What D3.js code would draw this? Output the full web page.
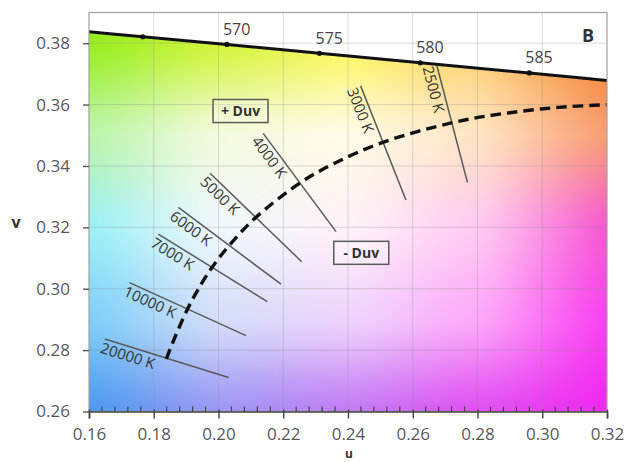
<!DOCTYPE html>
<html><head><meta charset="utf-8">
<script src="https://cdn.jsdelivr.net/npm/d3@7/dist/d3.min.js"></script>
<style>
body{margin:0;background:#fff;}
svg{display:block;font-family:"Open Sans",sans-serif;}
</style>
</head><body>
<svg id="chart" width="625" height="462"></svg>
<script>
// ---------- data ----------
const xTicks = [0.16, 0.18, 0.20, 0.22, 0.24, 0.26, 0.28, 0.30, 0.32];
const yTicks = [0.26, 0.28, 0.30, 0.32, 0.34, 0.36, 0.38];

// spectral locus (CIE 1960 u,v) with wavelength marks
const spectralNm = [560, 565, 570, 575, 580, 585, 590];
const spectralU  = [0.1531, 0.1766, 0.2026, 0.2312, 0.2623, 0.2960, 0.3315];
const spectralV  = [0.3844, 0.3821, 0.3796, 0.3767, 0.3736, 0.3703, 0.3667];
const markedNm   = [565, 570, 575, 580, 585];
const labeledNm  = [570, 575, 580, 585];

// Planckian locus (dashed)
const planckK = [20000, 15000, 10000, 8000, 7000, 6000, 5000, 4000, 3500, 3000, 2500, 2200, 2000, 1800];
const planckU = [0.1839, 0.1858, 0.1904, 0.1946, 0.1981, 0.2033, 0.2114, 0.2251, 0.2357, 0.2505, 0.2722, 0.2876, 0.3051, 0.3231];
const planckV = [0.2771, 0.2823, 0.2933, 0.3014, 0.3071, 0.3141, 0.3231, 0.3344, 0.3408, 0.3476, 0.3541, 0.3570, 0.3591, 0.3601];

// isotemperature lines
const isoLabels = ["20000 K", "10000 K", "7000 K", "6000 K", "5000 K", "4000 K", "3000 K", "2500 K"];
const isoU1 = [0.1649, 0.1725, 0.1814, 0.1876, 0.1974, 0.2138, 0.2439, 0.2674];
const isoV1 = [0.2836, 0.3020, 0.3178, 0.3265, 0.3376, 0.3506, 0.3661, 0.3729];
const isoU2 = [0.2031, 0.2085, 0.2151, 0.2193, 0.2257, 0.2363, 0.2579, 0.2769];
const isoV2 = [0.2711, 0.2847, 0.2958, 0.3015, 0.3088, 0.3186, 0.3289, 0.3346];

// annotations
const boxLabels = ["+ Duv", "- Duv"];
const boxU = [0.2068, 0.2441];
const boxV = [0.3579, 0.3117];

// ---------- style: background colour anchors (u columns x v rows) ----------
const bgU = [0.16, 0.20, 0.24, 0.28, 0.32];
const bgV = [0.26, 0.29, 0.32, 0.35, 0.38];
const bgColors = [
  ["#4c9af0", "#9c96f4", "#c27cf4", "#e050f2", "#f028f0"],   // v=0.26
  ["#80cef8", "#d4def8", "#eed4fc", "#fca8f8", "#f842f0"],   // v=0.29
  ["#9cf0f6", "#f0f8fc", "#fff2f8", "#ffcaf2", "#f65ad2"],   // v=0.32
  ["#bcf4ac", "#f4fae0", "#fffbe8", "#ffe4c4", "#f89e74"],   // v=0.35
  ["#98ee20", "#d2f43a", "#fcf65c", "#fcd070", "#f5852f"]    // v=0.38
];

// ---------- setup ----------
const svg = d3.select("#chart");
const L = 89, R = 607, T = 12.5, B = 411.5;
const x = d3.scaleLinear().domain([0.16, 0.32]).range([L, R]);
const y = d3.scaleLinear().domain([0.26, 0.39]).range([B, T]);

const defs = svg.append("defs");
defs.append("clipPath").attr("id", "plotClip")
  .append("rect").attr("x", L).attr("y", T).attr("width", R - L).attr("height", B - T);

const locus = spectralNm.map((d, i) => ({nm: d, u: spectralU[i], v: spectralV[i]}));
defs.append("clipPath").attr("id", "gamutClip")
  .append("path")
  .attr("d", d3.area().x(d => x(d.u)).y0(B).y1(d => y(d.v)).curve(d3.curveCatmullRom)(locus));

// ---------- colour background ----------
const W = Math.round(R - L), H = Math.round(B - T);
const cv = document.createElement("canvas");
cv.width = W; cv.height = H;
const ctx = cv.getContext("2d");
const img = ctx.createImageData(W, H);
const anchors = bgColors.map(row => row.map(c => { const r = d3.rgb(c); return [r.r, r.g, r.b]; }));
const uIdx = d3.scaleLinear().domain(bgU).range(d3.range(bgU.length)).clamp(true);
const vIdx = d3.scaleLinear().domain(bgV).range(d3.range(bgV.length)).clamp(true);
const sm = t => t * t * (3 - 2 * t) * 0.35 + t * 0.65;
for (let j = 0; j < H; j++) {
  const fv = vIdx(y.invert(T + j + 0.5));
  const j0 = Math.min(Math.floor(fv), bgV.length - 2), tv = sm(fv - j0);
  for (let i = 0; i < W; i++) {
    const fu = uIdx(x.invert(L + i + 0.5));
    const i0 = Math.min(Math.floor(fu), bgU.length - 2), tu = sm(fu - i0);
    const a = anchors[j0][i0], b = anchors[j0][i0 + 1], c = anchors[j0 + 1][i0], d = anchors[j0 + 1][i0 + 1];
    const k = (j * W + i) * 4;
    for (let ch = 0; ch < 3; ch++) {
      const top = a[ch] + (b[ch] - a[ch]) * tu;
      const bot = c[ch] + (d[ch] - c[ch]) * tu;
      img.data[k + ch] = top + (bot - top) * tv;
    }
    img.data[k + 3] = 255;
  }
}
ctx.putImageData(img, 0, 0);

const plotG = svg.append("g").attr("clip-path", "url(#plotClip)");
plotG.append("g").attr("clip-path", "url(#gamutClip)")
  .append("image")
  .attr("x", L).attr("y", T).attr("width", W).attr("height", H)
  .attr("preserveAspectRatio", "none")
  .attr("href", cv.toDataURL());

// grid
plotG.append("g").selectAll("line").data(xTicks.slice(1, -1)).join("line")
  .attr("x1", d => x(d)).attr("x2", d => x(d)).attr("y1", T).attr("y2", B)
  .attr("stroke", "rgba(140,140,140,0.3)").attr("stroke-width", 1);
plotG.append("g").selectAll("line").data(yTicks.slice(1)).join("line")
  .attr("x1", L).attr("x2", R).attr("y1", d => y(d)).attr("y2", d => y(d))
  .attr("stroke", "rgba(140,140,140,0.3)").attr("stroke-width", 1);

// frame
svg.append("rect").attr("x", L).attr("y", T).attr("width", R - L).attr("height", B - T)
  .attr("fill", "none").attr("stroke", "#a0a0a0").attr("stroke-width", 1.2);

// isotemperature lines
const iso = isoLabels.map((t, i) => ({t, u1: isoU1[i], v1: isoV1[i], u2: isoU2[i], v2: isoV2[i]}));
plotG.append("g").selectAll("line").data(iso).join("line")
  .attr("x1", d => x(d.u1)).attr("y1", d => y(d.v1))
  .attr("x2", d => x(d.u2)).attr("y2", d => y(d.v2))
  .attr("stroke", "#5a5a5a").attr("stroke-width", 1.5);
svg.append("g").selectAll("g").data(iso).join("g")
  .attr("transform", d => {
    const a = Math.atan2(y(d.v2) - y(d.v1), x(d.u2) - x(d.u1)) * 180 / Math.PI;
    return `translate(${x(d.u1)},${y(d.v1)}) rotate(${a})`;
  })
  .append("text").attr("x", -1).attr("y", 14.5)
  .attr("font-size", 15).attr("fill", "#333").text(d => d.t);

// Planckian locus
const planck = planckK.map((k, i) => ({k, u: planckU[i], v: planckV[i]}));
plotG.append("path").datum(planck)
  .attr("d", d3.line().x(d => x(d.u)).y(d => y(d.v)).curve(d3.curveCatmullRom))
  .attr("fill", "none").attr("stroke", "#111").attr("stroke-width", 3.4)
  .attr("stroke-dasharray", "10.5,6");

// spectral locus
plotG.append("path").datum(locus)
  .attr("d", d3.line().x(d => x(d.u)).y(d => y(d.v)).curve(d3.curveCatmullRom))
  .attr("fill", "none").attr("stroke", "#111").attr("stroke-width", 3);
const marks = locus.filter(d => markedNm.includes(d.nm));
svg.append("g").selectAll("circle").data(marks).join("circle")
  .attr("cx", d => x(d.u)).attr("cy", d => y(d.v)).attr("r", 2.6).attr("fill", "#111");
svg.append("g").selectAll("text").data(locus.filter(d => labeledNm.includes(d.nm))).join("text")
  .attr("x", d => x(d.u) - 4).attr("y", d => y(d.v) - 9.5)
  .attr("font-size", 16).attr("fill", "#444").text(d => d.nm);

// Duv boxes
const boxes = boxLabels.map((t, i) => ({t, u: boxU[i], v: boxV[i]}));
const bg = svg.append("g").selectAll("g").data(boxes).join("g")
  .attr("transform", d => `translate(${x(d.u)},${y(d.v)})`);
bg.append("rect").attr("x", -27.5).attr("y", -11.5).attr("width", 55).attr("height", 23)
  .attr("fill", "rgba(255,255,255,0.25)").attr("stroke", "#5a5a5a").attr("stroke-width", 1.5);
bg.append("text").attr("text-anchor", "middle").attr("y", 5)
  .attr("font-size", 14).attr("font-weight", "bold").attr("fill", "#333").text(d => d.t);

// "B" panel label
svg.append("text").attr("x", 594).attr("y", 41.5).attr("text-anchor", "end")
  .attr("font-size", 18).attr("font-weight", "bold").attr("fill", "#333").text("B");

// ---------- axes ----------
const xAxis = svg.append("g").attr("transform", `translate(0,${B})`)
  .call(d3.axisBottom(x).tickValues(xTicks).tickFormat(d3.format(".2f")).tickSize(7).tickPadding(0));
xAxis.select(".domain").attr("stroke", "#444").attr("stroke-width", 1.6);
xAxis.selectAll(".tick line").attr("y1", -2).attr("stroke", "#444").attr("stroke-width", 1.4);
xAxis.selectAll(".tick text").attr("y", 28.5).attr("dy", null)
  .attr("font-size", 17).attr("fill", "#595959").attr("font-family", "Open Sans");
const minor = d3.range(0.164, 0.3199, 0.004).filter(d => Math.abs(Math.round(d / 0.02) * 0.02 - d) > 1e-6);
xAxis.append("g").selectAll("line").data(minor).join("line")
  .attr("x1", d => x(d)).attr("x2", d => x(d)).attr("y1", -5).attr("y2", 0)
  .attr("stroke", "#444").attr("stroke-width", 1.2);

const yAxis = svg.append("g").attr("transform", `translate(${L},0)`)
  .call(d3.axisLeft(y).tickValues(yTicks).tickFormat(d3.format(".2f")).tickSize(6).tickPadding(13));
yAxis.select(".domain").remove();
yAxis.selectAll(".tick line").attr("stroke", "#555").attr("stroke-width", 1.4);
yAxis.selectAll(".tick text").attr("font-size", 17).attr("fill", "#595959").attr("font-family", "Open Sans");

// axis titles
svg.append("text").attr("x", 16).attr("y", 228).attr("text-anchor", "middle")
  .attr("font-size", 16).attr("font-weight", "bold").attr("fill", "#333").text("v");
svg.append("text").attr("x", 349).attr("y", 458.3).attr("text-anchor", "middle")
  .attr("font-size", 12).attr("font-weight", "bold").attr("fill", "#333").text("u");
</script>
</body></html>
